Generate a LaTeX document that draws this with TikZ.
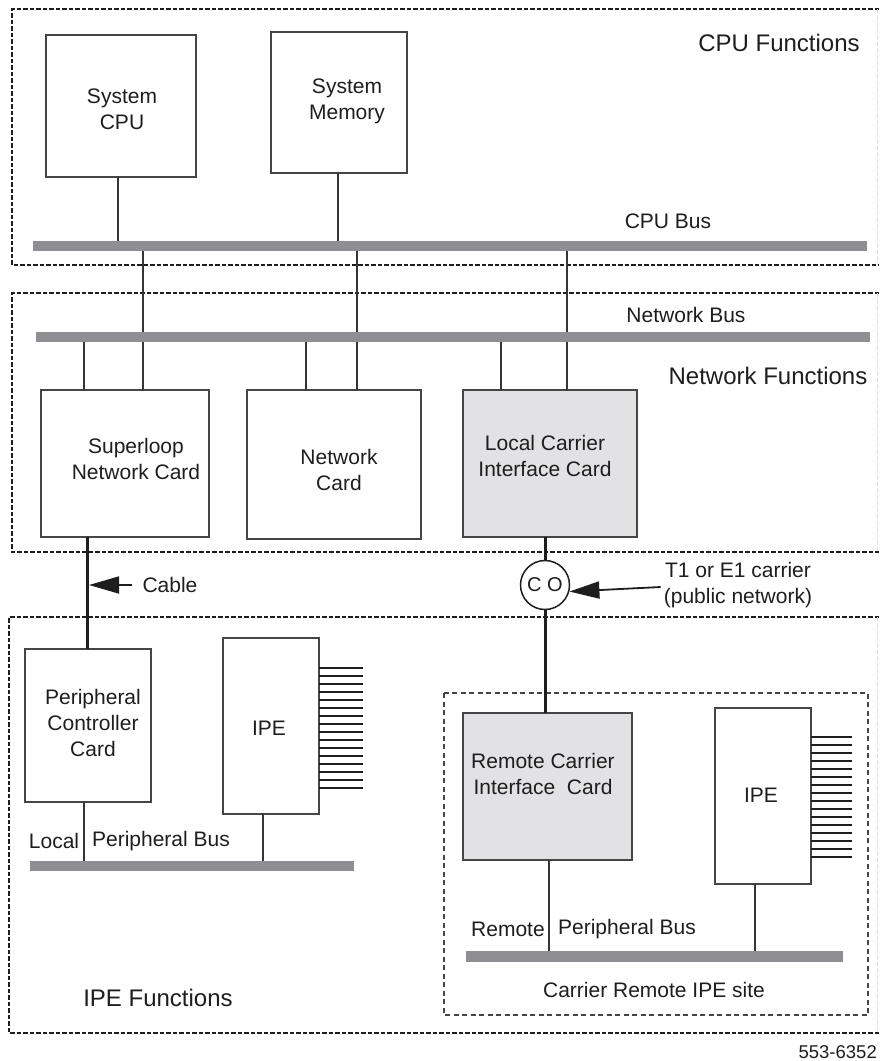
\documentclass[tikz,border=0pt]{standalone}
\usepackage{fontspec}
\setmainfont{Liberation Sans}
\usetikzlibrary{arrows.meta}
\definecolor{ink}{HTML}{1E1E1E}
\definecolor{edge}{HTML}{454545}
\definecolor{busgray}{HTML}{8E8E93}
\definecolor{cardgray}{HTML}{E2E2E4}

\begin{document}
\begin{tikzpicture}[x=1pt,y=-1pt,
  card/.style={draw=edge, line width=1.6pt, fill=white, inner sep=0pt, outer sep=0pt},
  shaded/.style={card, fill=cardgray},
  bus/.style={fill=busgray, draw=none, inner sep=0pt, outer sep=0pt},
  wire/.style={draw=ink!90, line width=1.6pt},
  heavy/.style={draw=ink, line width=3pt},
  frame/.style={draw=ink, line width=2.4pt, dash pattern=on 4.5pt off 2pt},
  siteframe/.style={draw=edge, line width=1.4pt, dash pattern=on 5pt off 3.5pt},
  txt/.style={text=ink, font=\fontsize{21}{26}\selectfont, align=center, inner sep=0pt},
  title/.style={text=ink, font=\fontsize{24}{29}\selectfont, inner sep=0pt},
  pointer/.style={draw=ink, line width=1.8pt, -{Triangle[length=30pt,width=17pt]}},
  fan/.style={draw=ink, line width=1.7pt},
]
\useasboundingbox (0,0) rectangle (879,1061);
\fill[white] (0,0) rectangle (879,1061);

% ---------- functional areas ----------
\draw[frame] (879,9) -- (12,9) -- (12,265) -- (879,265);
\draw[frame] (879,293) -- (12,293) -- (12,552) -- (879,552);
\draw[frame] (879,617) -- (9,617) -- (9,1033) -- (879,1033);
\draw[black!12, line width=1pt, dash pattern=on 4.5pt off 2pt] (877,9) -- (877,265) (877,293) -- (877,552) (877,617) -- (877,1033);
\draw[siteframe] (444,693) rectangle (868,1015);

\node[title] (cpuf) at (779,43) {CPU Functions};
\node[title] (netf) at (768,376) {Network Functions};
\node[title] (ipef) at (158,998) {IPE Functions};
\node[txt] (sitel) at (654,990) {Carrier Remote IPE site};

% ---------- buses ----------
\node[bus, minimum width=834pt, minimum height=10pt] (cpubus) at (450,246) {};
\node[bus, minimum width=834pt, minimum height=10pt] (netbus) at (453,337) {};
\node[bus, minimum width=324pt, minimum height=10pt] (locbus) at (192,866) {};
\node[bus, minimum width=377pt, minimum height=11pt] (rembus) at (654.5,956.5) {};

\node[txt] (cpubusl) at (668,221) {CPU Bus};
\node[txt] (netbusl) at (686,315) {Network Bus};
\node[txt] (locl) at (54,841) {Local};
\node[txt] (locbusl) at (161,841) {Peripheral Bus};
\node[txt] (reml) at (508,929) {Remote};
\node[txt] (rembusl) at (627,929) {Peripheral Bus};

% ---------- cards ----------
\node[card, minimum width=150pt, minimum height=142pt] (cpu) at (121,106) {};
\node[card, minimum width=136pt, minimum height=141pt] (mem) at (339,102.5) {};
\node[card, minimum width=168pt, minimum height=147pt] (sln) at (125,463.5) {};
\node[card, minimum width=174pt, minimum height=149pt] (nc) at (334,464.5) {};
\node[shaded, minimum width=174pt, minimum height=147pt] (lcic) at (550,463.5) {};
\node[card, minimum width=126pt, minimum height=153pt] (pcc) at (88,725.5) {};
\node[card, minimum width=96pt, minimum height=176pt] (ipea) at (271,726) {};
\node[shaded, minimum width=169pt, minimum height=147pt] (rcic) at (547.5,786.5) {};
\node[card, minimum width=96pt, minimum height=176pt] (ipeb) at (763,796) {};

\node[txt] (cpu-t) at (122,109) {System\\CPU};
\node[txt] (mem-t) at (347,101.5) {System\\Memory};
\node[txt] (sln-t) at (136,459) {Superloop\\Network Card};
\node[txt] (nc-t) at (339,469.5) {Network\\Card};
\node[txt] (lcic-t) at (545,456) {Local Carrier\\Interface Card};
\node[txt] (pcc-t) at (93,723) {Peripheral\\Controller\\Card};
\node[txt] (ipea-t) at (269,728) {IPE};
\node[txt] (rcic-t) at (543,774) {Remote Carrier\\Interface~~Card};
\node[txt] (ipeb-t) at (761,795) {IPE};

% line bundles leaving the IPE shelves
\foreach \k in {0,...,15} {
  \draw[fan] (ipea.north east) ++(0,30+8*\k) -- ++(44,0);
  \draw[fan] (ipeb.north east) ++(0,29+8*\k) -- ++(41,0);
}

% ---------- drop positions ----------
\coordinate (xa) at (118,0);
\coordinate (xb) at (338,0);
\coordinate (xc) at (143,0);
\coordinate (xd) at (357,0);
\coordinate (xe) at (567,0);
\coordinate (xf) at (84,0);
\coordinate (xg) at (306,0);
\coordinate (xh) at (501,0);
\coordinate (xk) at (87,0);
\coordinate (xm) at (263,0);
\coordinate (xn) at (549,0);
\coordinate (xp) at (755,0);

% CPU bus
\draw[wire] (cpu.south -| xa) -- (cpubus.north -| xa);
\draw[wire] (mem.south -| xb) -- (cpubus.north -| xb);
\draw[wire] (cpubus.south -| xc) -- (netbus.north -| xc);
\draw[wire] (cpubus.south -| xd) -- (netbus.north -| xd);
\draw[wire] (cpubus.south -| xe) -- (netbus.north -| xe);

% network bus
\draw[wire] (netbus.south -| xf) -- (sln.north -| xf);
\draw[wire] (netbus.south -| xc) -- (sln.north -| xc);
\draw[wire] (netbus.south -| xg) -- (nc.north -| xg);
\draw[wire] (netbus.south -| xd) -- (nc.north -| xd);
\draw[wire] (netbus.south -| xh) -- (lcic.north -| xh);
\draw[wire] (netbus.south -| xe) -- (lcic.north -| xe);

% local cable to the peripheral controller
\draw[heavy] (sln.south -| xk) -- (pcc.north -| xk);
\node[txt] (cablel) at (170,585) {Cable};
\draw[pointer] ([xshift=-10pt]cablel.west) -- ([xshift=2pt]cablel.west -| xk);

% carrier link through the central office
\node[circle, draw=ink, line width=1.5pt, fill=white, minimum size=49pt, inner sep=0pt,
      font=\fontsize{20}{22}\selectfont, text=ink] (co) at (545,585) {C O};
\draw[heavy] (lcic.south -| co.north) -- (co.north);
\draw[heavy] (co.south) -- (rcic.north -| co.south);
\node[txt] (t1) at (738,585) {T1 or E1 carrier\\(public network)};
\draw[pointer] ([yshift=-2pt,xshift=-3pt]t1.west) -- (co.-15);

% peripheral buses
\draw[wire] (pcc.south -| xf) -- (locbus.north -| xf);
\draw[wire] (ipea.south -| xm) -- (locbus.north -| xm);
\draw[wire] (rcic.south -| xn) -- (rembus.north -| xn);
\draw[wire] (ipeb.south -| xp) -- (rembus.north -| xp);

\node[text=ink, font=\fontsize{18.5}{22}\selectfont, inner sep=0pt, anchor=east] (fig) at (877,1052) {553-6352};
\end{tikzpicture}
\end{document}
